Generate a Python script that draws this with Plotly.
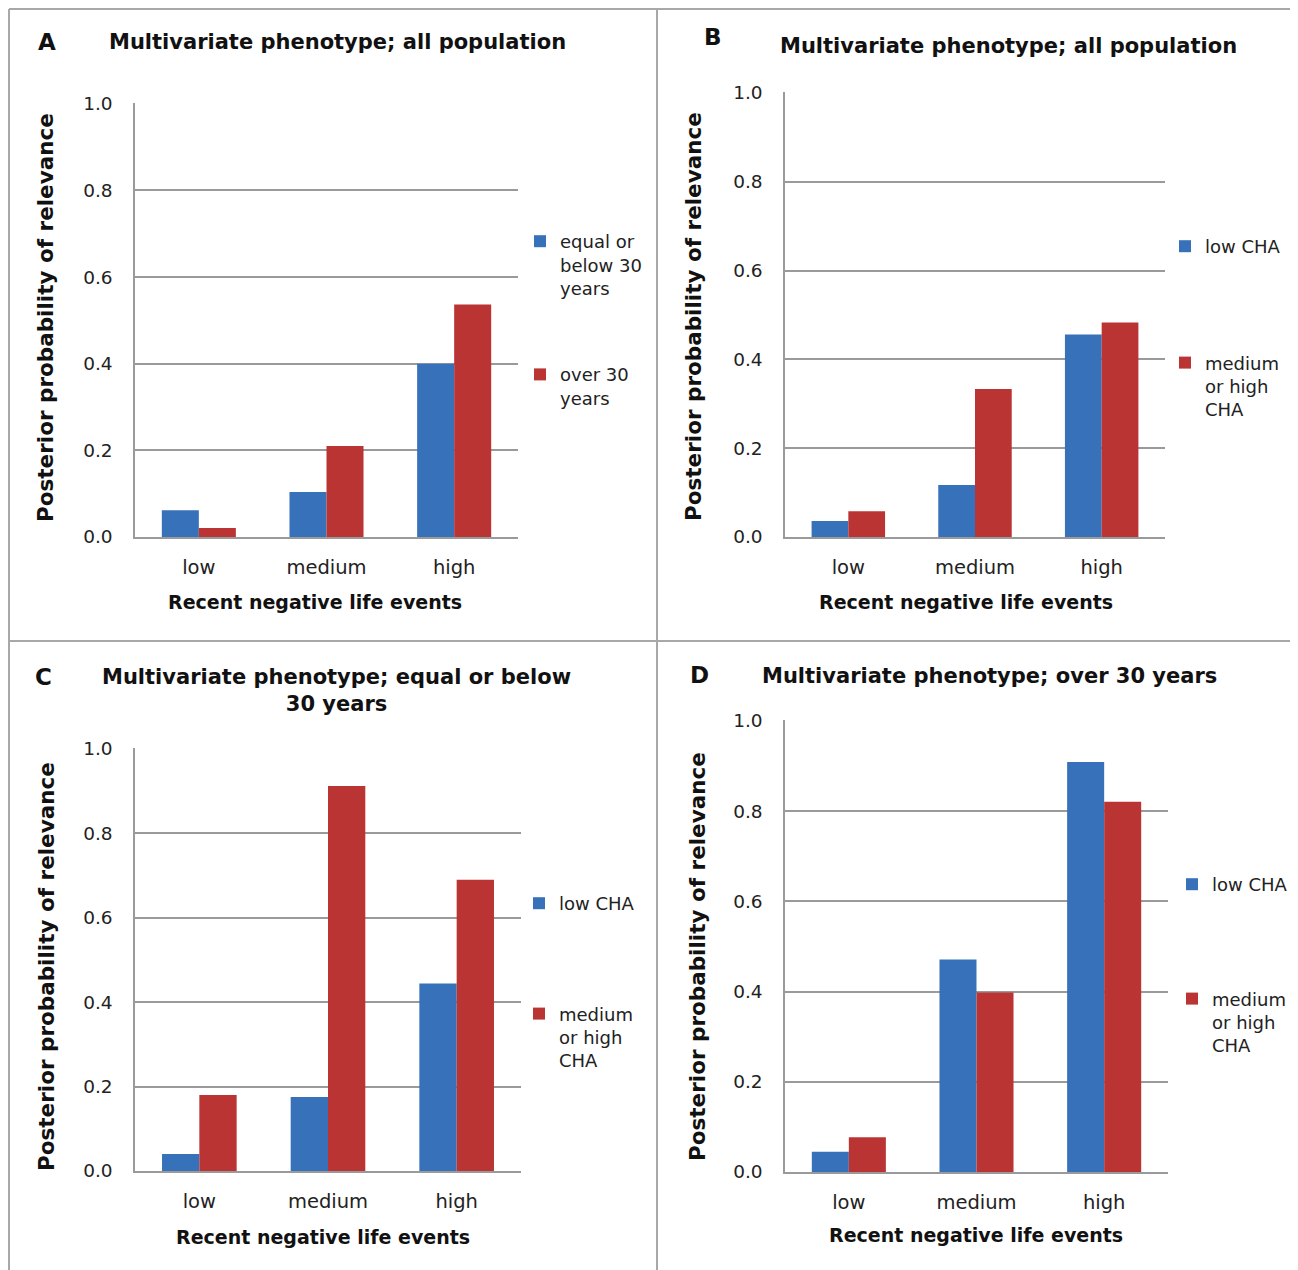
import plotly.graph_objects as go

W, H = 1298, 1270

categories = ["low", "medium", "high"]

# Panel A: all population, by age
a_young = [0.062, 0.104, 0.400]
a_old = [0.021, 0.210, 0.537]
# Panel B: all population, by CHA
b_low = [0.036, 0.117, 0.456]
b_medhigh = [0.058, 0.333, 0.483]
# Panel C: equal or below 30 years, by CHA
c_low = [0.040, 0.175, 0.444]
c_medhigh = [0.180, 0.912, 0.690]
# Panel D: over 30 years, by CHA
d_low = [0.045, 0.471, 0.909]
d_medhigh = [0.077, 0.398, 0.821]

y_ticks = [0.0, 0.2, 0.4, 0.6, 0.8, 1.0]
y_tick_text = ["0.0", "0.2", "0.4", "0.6", "0.8", "1.0"]

FONT = "DejaVu Sans, Verdana, sans-serif"
BLUE = "#3671ba"
RED = "#ba3434"
GRID = "#9a9a9a"
OFF = 8  # page body margin


def px_x(p):
    return (p - OFF) / W


def px_y(p):
    return 1 - (p - OFF) / H


panels = [
    dict(letter="A", title="Multivariate phenotype; all population",
         series=[("equal or<br>below 30<br>years", a_young), ("over 30<br>years", a_old)],
         box=(135, 518, 103, 537), title_xy=(337, 42), letter_xy=(47, 42),
         ytitle_xy=(45, 318), xtitle_xy=(315, 602), legend_xy=(520, 223), gap=60),
    dict(letter="B", title="Multivariate phenotype; all population",
         series=[("low CHA", b_low), ("medium<br>or high<br>CHA", b_medhigh)],
         box=(785, 1165, 92, 537), title_xy=(1008, 46), letter_xy=(713, 37),
         ytitle_xy=(693, 317), xtitle_xy=(966, 602), legend_xy=(1165, 228), gap=90),
    dict(letter="C", title="Multivariate phenotype; equal or below<br>30 years",
         series=[("low CHA", c_low), ("medium<br>or high<br>CHA", c_medhigh)],
         box=(135, 521, 748, 1171), title_xy=(336, 690), letter_xy=(43, 677),
         ytitle_xy=(46, 967), xtitle_xy=(323, 1237), legend_xy=(519, 885), gap=84),
    dict(letter="D", title="Multivariate phenotype; over 30 years",
         series=[("low CHA", d_low), ("medium<br>or high<br>CHA", d_medhigh)],
         box=(785, 1168, 720, 1172), title_xy=(989, 676), letter_xy=(699, 675),
         ytitle_xy=(697, 956), xtitle_xy=(976, 1235), legend_xy=(1172, 866), gap=88),
]

fig = go.Figure()
annotations = []
layout = {}

for i, p in enumerate(panels):
    n = "" if i == 0 else str(i + 1)
    leg = "legend" if i == 0 else f"legend{i + 1}"
    colors = [BLUE, RED]
    for j, (name, vals) in enumerate(p["series"]):
        fig.add_trace(go.Bar(
            x=categories, y=vals, name=name,
            marker=dict(color=colors[j], line=dict(width=0)),
            xaxis="x" + n, yaxis="y" + n,
            legend=leg, legendgroup=f"{p['letter']}{j}",
            hoverinfo="x+y",
        ))
    x0, x1, y0, y1 = p["box"]
    layout["xaxis" + n] = dict(
        domain=[px_x(x0), px_x(x1)], anchor="y" + n,
        showline=True, linecolor=GRID, linewidth=1.5,
        showgrid=False, ticks="", ticklabelstandoff=12,
        tickfont=dict(family=FONT, size=19.5, color="#222"),
        fixedrange=True, automargin=False,
    )
    layout["yaxis" + n] = dict(
        domain=[px_y(y1), px_y(y0)], anchor="x" + n,
        range=[0, 1.002], tickvals=y_ticks, ticktext=y_tick_text,
        showline=True, linecolor=GRID, linewidth=1.5,
        showgrid=True, gridcolor=GRID, gridwidth=1.5,
        zeroline=False, ticks="", ticklabelstandoff=17,
        tickfont=dict(family=FONT, size=18.5, color="#222"),
        fixedrange=True, automargin=False,
    )
    lx, ly = p["legend_xy"]
    layout[leg] = dict(
        x=px_x(lx), y=px_y(ly), xanchor="left", yanchor="top",
        xref="paper", yref="paper",
        bgcolor="rgba(0,0,0,0)", borderwidth=0,
        font=dict(family=FONT, size=18, color="#222"),
        itemwidth=30, tracegroupgap=p["gap"], valign="top",
        traceorder="grouped",
    )
    tx, ty = p["title_xy"]
    annotations.append(dict(
        text="<b>" + p["title"] + "</b>", x=px_x(tx), y=px_y(ty),
        xref="paper", yref="paper", xanchor="center", yanchor="middle",
        showarrow=False, font=dict(family=FONT, size=21, color="#111"),
    ))
    lx2, ly2 = p["letter_xy"]
    annotations.append(dict(
        text="<b>" + p["letter"] + "</b>", x=px_x(lx2), y=px_y(ly2),
        xref="paper", yref="paper", xanchor="center", yanchor="middle",
        showarrow=False, font=dict(family=FONT, size=23, color="#111"),
    ))
    yx, yy = p["ytitle_xy"]
    annotations.append(dict(
        text="<b>Posterior probability of relevance</b>", x=px_x(yx), y=px_y(yy),
        xref="paper", yref="paper", xanchor="center", yanchor="middle",
        textangle=-90, showarrow=False,
        font=dict(family=FONT, size=21.5, color="#111"),
    ))
    xx, xy = p["xtitle_xy"]
    annotations.append(dict(
        text="<b>Recent negative life events</b>", x=px_x(xx), y=px_y(xy),
        xref="paper", yref="paper", xanchor="center", yanchor="middle",
        showarrow=False, font=dict(family=FONT, size=19, color="#111"),
    ))

border = dict(color="#a8a8a8", width=2)
shapes = [
    dict(type="line", xref="paper", yref="paper", x0=px_x(9), x1=1, y0=px_y(9), y1=px_y(9), line=border),
    dict(type="line", xref="paper", yref="paper", x0=px_x(9), x1=px_x(9), y0=px_y(9), y1=0, line=border),
    dict(type="line", xref="paper", yref="paper", x0=px_x(657), x1=px_x(657), y0=px_y(9), y1=0, line=border),
    dict(type="line", xref="paper", yref="paper", x0=px_x(9), x1=1, y0=px_y(641), y1=px_y(641), line=border),
]

fig.update_layout(
    width=W, height=H,
    margin=dict(l=0, r=0, t=0, b=0, pad=0, autoexpand=False),
    paper_bgcolor="white", plot_bgcolor="white",
    barmode="group", bargap=0.42, bargroupgap=0,
    showlegend=True,
    annotations=annotations, shapes=shapes,
    font=dict(family=FONT),
    **layout,
)

fig.write_html("out.html")
